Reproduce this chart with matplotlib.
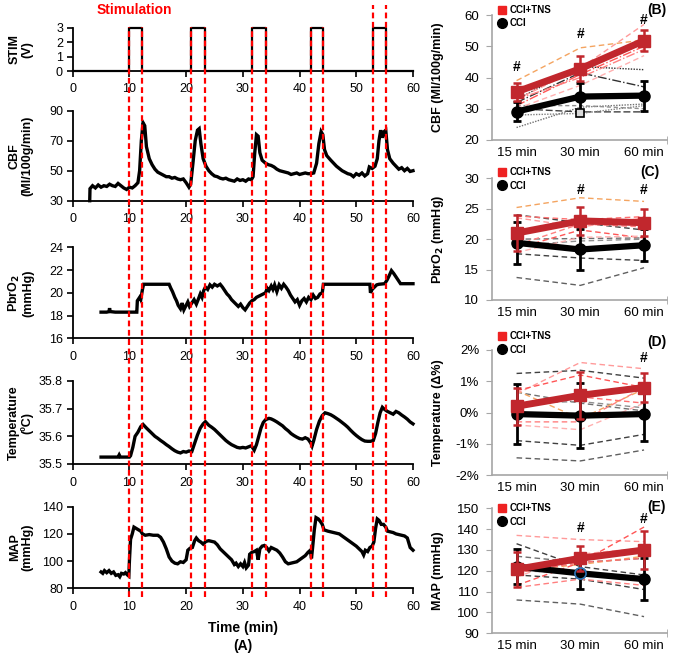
import numpy as np
import matplotlib.pyplot as plt
from matplotlib.lines import Line2D

plt.rcParams['font.family'] = ['Liberation Sans', 'DejaVu Sans']

# ---------------- panel A: raw traces (time in min, value) ----------------
stim_on = [10.0, 20.9, 31.7, 42.0, 52.9]
stim_off = [12.3, 23.3, 34.1, 44.1, 55.2]

cbf_trace = [
    (3.0, 30), (3.05, 38), (3.5, 40), (4.0, 38.5), (4.5, 40.5), (5.0, 39), (5.5, 40), (6.0, 39.5),
    (6.5, 41), (7.0, 40), (7.5, 39.5), (8.0, 41.5), (8.5, 40), (9.0, 38.5), (9.5, 37.5), (10.0, 39),
    (10.5, 38.5), (11.0, 40), (11.5, 42), (11.8, 50), (12.1, 70), (12.4, 82), (12.7, 80), (13.0, 66),
    (13.5, 58), (14.0, 54), (14.5, 51), (15.0, 49), (15.5, 48), (16.0, 47), (16.5, 46), (17.0, 46),
    (17.5, 45), (18.0, 45.5), (18.5, 44.5), (19.0, 44), (19.5, 44.5), (20.0, 42), (20.5, 39), (20.8, 41),
    (21.2, 55), (21.6, 70), (22.0, 77), (22.3, 78), (22.6, 68), (23.0, 58), (23.5, 53), (24.0, 50),
    (24.5, 48), (25.0, 46.5), (25.5, 46), (26.0, 45), (26.5, 44.5), (27.0, 45), (27.5, 44), (28.0, 43.5),
    (28.5, 43), (29.0, 44.5), (29.5, 43.5), (30.0, 44), (30.5, 43), (31.0, 44.5), (31.5, 44), (31.8, 46),
    (32.1, 62), (32.4, 74), (32.7, 73), (33.0, 62), (33.4, 57), (34.0, 55), (34.5, 54), (35.0, 53.5),
    (35.5, 52.5), (36.0, 51), (36.5, 50), (37.0, 49.5), (37.5, 49), (38.0, 48.5), (38.5, 47.5), (39.0, 48),
    (39.5, 48.5), (40.0, 47.5), (40.5, 48), (41.0, 48.5), (41.5, 48), (42.0, 48), (42.5, 48.5), (43.0, 55),
    (43.4, 68), (43.8, 76), (44.1, 74), (44.4, 64), (44.8, 60), (45.5, 57), (46.0, 55), (46.5, 53),
    (47.0, 51.5), (47.5, 50), (48.0, 49), (48.5, 48), (49.0, 47.5), (49.5, 46), (50.0, 48), (50.5, 47),
    (51.0, 48.5), (51.5, 46.5), (52.0, 48), (52.3, 52.5), (52.8, 51.5), (53.3, 53), (53.7, 58), (54.0, 70),
    (54.3, 77), (54.6, 72), (54.9, 76), (55.2, 77), (55.5, 64), (55.9, 58), (56.5, 55), (57.0, 53),
    (57.5, 51), (58.0, 52), (58.5, 50), (59.0, 51.5), (59.5, 49.5), (60.0, 50)]

pbro2_trace = [
    (5.0, 18.3), (6.0, 18.3), (6.4, 18.35), (6.5, 18.65), (6.6, 18.35), (7.5, 18.3), (9.0, 18.3),
    (10.0, 18.3), (11.0, 18.3), (11.3, 18.3), (11.4, 19.3), (11.8, 19.6), (12.0, 19.4), (12.3, 20.3),
    (12.5, 20.75), (14.0, 20.75), (16.0, 20.75), (17.0, 20.75), (17.3, 20.4), (17.6, 20.1), (18.0, 19.6),
    (18.3, 19.3), (18.6, 18.9), (19.0, 18.6), (19.3, 19.1), (19.6, 18.5), (20.0, 18.9), (20.3, 19.2),
    (20.6, 18.8), (21.0, 19.1), (21.4, 19.4), (21.8, 19.0), (22.2, 19.5), (22.5, 19.9), (22.8, 19.6),
    (23.1, 20.2), (23.4, 20.5), (23.8, 20.3), (24.2, 20.7), (24.6, 20.5), (25.0, 20.75), (25.5, 20.6),
    (26.0, 20.75), (26.4, 20.5), (26.8, 20.2), (27.2, 19.9), (27.6, 19.7), (28.0, 19.4), (28.4, 19.2),
    (28.8, 19.0), (29.2, 18.8), (29.6, 19.0), (30.0, 18.7), (30.4, 18.5), (30.8, 18.8), (31.2, 19.1),
    (31.6, 19.3), (32.0, 19.4), (32.4, 19.6), (32.8, 19.7), (33.2, 19.8), (33.6, 19.9), (34.0, 20.0),
    (34.3, 20.4), (34.6, 20.2), (35.0, 20.6), (35.3, 20.3), (35.6, 20.7), (36.0, 20.1), (36.4, 20.7),
    (36.8, 20.4), (37.2, 20.75), (37.6, 20.5), (38.0, 20.2), (38.4, 19.8), (38.8, 19.5), (39.2, 19.2),
    (39.6, 19.4), (40.0, 18.9), (40.4, 19.3), (40.8, 19.5), (41.2, 19.2), (41.6, 19.6), (42.0, 19.4),
    (42.4, 19.8), (42.8, 19.5), (43.2, 19.6), (43.6, 19.9), (44.0, 20.0), (44.2, 20.75), (46.0, 20.75),
    (48.0, 20.75), (50.0, 20.75), (52.0, 20.75), (52.4, 20.75), (52.5, 20.0), (52.8, 20.3), (53.2, 20.5),
    (53.6, 20.7), (54.0, 20.75), (55.0, 20.8), (55.4, 21.1), (55.8, 21.5), (56.2, 21.95), (56.6, 21.7),
    (57.0, 21.4), (57.4, 21.1), (57.8, 20.8), (58.5, 20.8), (59.0, 20.8), (60.0, 20.8)]

temp_trace = [
    (5.0, 35.525), (8.0, 35.525), (8.2, 35.533), (8.4, 35.525), (10.0, 35.525), (10.2, 35.53),
    (10.6, 35.56), (11.0, 35.6), (11.5, 35.615), (12.0, 35.635), (12.4, 35.643), (13.0, 35.63),
    (13.5, 35.62), (14.0, 35.61), (14.5, 35.6), (15.0, 35.593), (15.5, 35.585), (16.0, 35.578),
    (16.5, 35.57), (17.0, 35.563), (17.5, 35.555), (18.0, 35.548), (18.5, 35.543), (19.0, 35.54),
    (19.5, 35.545), (20.0, 35.543), (20.5, 35.547), (21.0, 35.545), (21.5, 35.575), (22.0, 35.605),
    (22.5, 35.63), (23.0, 35.645), (23.4, 35.653), (24.0, 35.64), (24.5, 35.633), (25.0, 35.625),
    (25.5, 35.615), (26.0, 35.605), (26.5, 35.595), (27.0, 35.585), (27.5, 35.577), (28.0, 35.57),
    (28.5, 35.565), (29.0, 35.56), (29.5, 35.558), (30.0, 35.56), (30.5, 35.558), (31.0, 35.562),
    (31.5, 35.566), (32.0, 35.55), (32.4, 35.57), (32.8, 35.6), (33.2, 35.63), (33.6, 35.65),
    (34.0, 35.66), (34.6, 35.665), (35.0, 35.663), (35.5, 35.658), (36.0, 35.652), (36.5, 35.645),
    (37.0, 35.638), (37.5, 35.628), (38.0, 35.62), (38.5, 35.61), (39.0, 35.603), (39.5, 35.597),
    (40.0, 35.592), (40.5, 35.59), (41.0, 35.595), (41.5, 35.59), (42.0, 35.575), (42.2, 35.565),
    (42.5, 35.585), (43.0, 35.625), (43.5, 35.655), (44.0, 35.675), (44.5, 35.685), (45.0, 35.682),
    (45.5, 35.678), (46.0, 35.672), (46.5, 35.665), (47.0, 35.658), (47.5, 35.65), (48.0, 35.642),
    (48.5, 35.633), (49.0, 35.622), (49.5, 35.612), (50.0, 35.603), (50.5, 35.595), (51.0, 35.588),
    (51.5, 35.583), (52.0, 35.582), (52.5, 35.582), (53.0, 35.585), (53.4, 35.61), (53.8, 35.65),
    (54.2, 35.685), (54.6, 35.705), (55.0, 35.697), (55.5, 35.69), (56.0, 35.685), (56.5, 35.68),
    (57.0, 35.69), (57.5, 35.685), (58.0, 35.677), (58.5, 35.67), (59.0, 35.662), (59.5, 35.652),
    (60.0, 35.645)]

map_trace = [
    (5.0, 92), (5.3, 91), (5.6, 93), (6.0, 91.5), (6.4, 93), (6.8, 91), (7.2, 92), (7.6, 89.5),
    (8.0, 90), (8.3, 88.5), (8.6, 91), (9.0, 90.5), (9.3, 91.5), (9.6, 90), (9.9, 89), (10.0, 100),
    (10.2, 116), (10.5, 120), (10.8, 125), (11.2, 124), (11.6, 123), (12.0, 122), (12.3, 120),
    (12.8, 119), (13.5, 119.5), (14.2, 119), (15.0, 119), (15.5, 117.5), (16.0, 114), (16.5, 109),
    (17.0, 103), (17.5, 100), (18.0, 98.5), (18.5, 98), (19.0, 99.5), (19.5, 99), (20.0, 101),
    (20.3, 108), (20.7, 109.5), (21.1, 110), (21.5, 115), (21.8, 117), (22.2, 115), (22.6, 114),
    (23.0, 112.5), (23.5, 114.5), (24.0, 115), (24.5, 114.5), (25.0, 114), (25.5, 112), (26.0, 109),
    (26.5, 107), (27.0, 105), (27.5, 103), (28.0, 101), (28.5, 97.5), (28.8, 98.5), (29.2, 96),
    (29.6, 98), (30.0, 96), (30.3, 99), (30.6, 95), (31.0, 97), (31.2, 105), (31.6, 106.5),
    (32.0, 107), (32.4, 108), (32.7, 101), (33.0, 109), (33.4, 111), (33.8, 111.5), (34.2, 110),
    (34.6, 107.5), (35.0, 110), (35.5, 109), (36.0, 108), (36.5, 106), (37.0, 103), (37.5, 99.5),
    (38.0, 98), (38.5, 98.5), (39.0, 99), (39.5, 99.5), (40.0, 101), (40.5, 102.5), (41.0, 104),
    (41.5, 106.5), (41.9, 108), (42.1, 102), (42.3, 110), (42.6, 123), (42.9, 132), (43.3, 131),
    (43.7, 129), (44.0, 127), (44.3, 123), (45.0, 122), (45.5, 121.5), (46.0, 121), (46.5, 120.5),
    (47.0, 120), (47.5, 118.5), (48.0, 117), (48.5, 115.5), (49.0, 114), (49.5, 112.5), (50.0, 111),
    (50.5, 109), (51.0, 107), (51.3, 104.5), (51.6, 108), (52.0, 107), (52.4, 110), (52.8, 111),
    (53.1, 114), (53.4, 124), (53.7, 131), (54.0, 130), (54.4, 127), (54.8, 127), (55.2, 125),
    (55.5, 122), (56.0, 121.5), (56.5, 121), (57.0, 120), (57.5, 119.5), (58.0, 119), (58.5, 118.5),
    (59.0, 117), (59.5, 110), (60.0, 108)]

# ---------------- panels B-E: group means, SD, individual animals ----------------
time_labels = ['15 min', '30 min', '60 min']

cbf_tns, cbf_tns_err = [35.4, 42.8, 51.8], [3.0, 4.0, 3.4]
cbf_cci, cbf_cci_err = [29.1, 33.9, 34.2], [3.0, 4.5, 4.8]
cbf_tns_ind = [[39.0, 49.5, 52.0], [33.0, 43.0, 57.0], [31.0, 41.0, 50.0], [30.0, 37.5, 47.0], [33.0, 40.0, 49.0]]
cbf_cci_ind = [[32.0, 41.5, 37.0], [33.0, 43.5, 42.5], [24.0, 30.5, 31.5], [30.0, 29.0, 29.0], [28.0, 28.5, 31.0], [31.0, 31.0, 30.0]]
cbf_hash = [(0, 43.5), (1, 54.0), (2, 58.5)]

pbro2_tns, pbro2_tns_err = [21.0, 23.0, 22.7], [3.0, 2.3, 2.2]
pbro2_cci, pbro2_cci_err = [19.4, 18.3, 19.0], [3.5, 3.4, 2.6]
pbro2_tns_ind = [[25.2, 26.8, 26.2], [23.5, 22.0, 23.5], [18.5, 21.5, 20.2], [17.8, 20.3, 20.5], [19.0, 22.5, 22.0], [23.8, 23.2, 23.7]]
pbro2_cci_ind = [[24.0, 22.7, 21.5], [20.0, 20.1, 20.2], [17.6, 16.9, 16.5], [13.7, 12.4, 15.3], [19.0, 19.7, 20.0]]
pbro2_hash = [(1, 28.1), (2, 28.0)]

temp_tns, temp_tns_err = [0.2, 0.55, 0.8], [0.6, 0.75, 0.45]
temp_cci, temp_cci_err = [-0.05, -0.1, -0.05], [0.95, 1.05, 0.85]
temp_tns_ind = [[0.7, -0.2, 0.75], [0.6, 1.6, 1.4], [0.7, 1.2, 0.8], [-0.4, -0.55, 0.3], [-0.3, -0.3, 0.8], [0.2, 0.5, 0.3]]
temp_cci_ind = [[1.25, 1.35, 1.1], [0.65, 0.3, 0.05], [-0.9, -1.05, -0.7], [-1.45, -1.55, -1.2], [0.3, 0.35, 0.15]]
temp_hash = [(2, 1.75)]

map_tns, map_tns_err = [120.7, 126.0, 130.0], [8.5, 6.0, 9.0]
map_cci, map_cci_err = [122.0, 118.8, 116.0], [8.5, 7.5, 10.0]
map_tns_ind = [[120.0, 123.0, 127.0], [137.0, 135.0, 134.0], [113.0, 124.0, 141.0], [117.0, 128.0, 131.0], [112.0, 116.0, 113.0], [119.0, 124.0, 126.0]]
map_cci_ind = [[133.0, 122.0, 118.0], [127.0, 124.0, 126.0], [118.0, 116.0, 111.0], [106.0, 104.0, 98.0], [120.0, 119.0, 117.0]]
map_hash = [(1, 140.5), (2, 145.0)]

RED = '#c1272d'

fig = plt.figure(figsize=(6.75, 6.55), dpi=100)
W, H = 675.0, 655.0


def px_axes(x0, x1, ytop, ybot):
    return fig.add_axes([x0 / W, 1 - ybot / H, (x1 - x0) / W, (ybot - ytop) / H])


# ---- left column ----
left_specs = [
    ('STIM\n(V)', (28, 71), (0, 3), [0, 1, 2, 3], None),
    ('CBF\n(Ml/100g/min)', (110.7, 200.7), (30, 90), [30, 50, 70, 90], cbf_trace),
    ('PbrO$_\\mathbf{2}$\n(mmHg)', (247.3, 338.3), (16, 24), [16, 18, 20, 22, 24], pbro2_trace),
    ('Temperature\n(\u00baC)', (381, 464), (35.5, 35.8), [35.5, 35.6, 35.7, 35.8], temp_trace),
    ('MAP\n(mmHg)', (506.7, 588.3), (80, 140), [80, 100, 120, 140], map_trace),
]

for label, (yt, yb), ylim, yticks, trace in left_specs:
    ax = px_axes(72.7, 413, yt, yb)
    if trace is None:
        st, sv = [0], [0]
        for a, b in zip(stim_on, stim_off):
            st += [a, a, b, b]
            sv += [0, 3, 3, 0]
        st.append(60)
        sv.append(0)
        ax.plot(st, sv, color='black', lw=1.6, clip_on=False)
    else:
        tr = np.array(trace)
        ax.plot(tr[:, 0], tr[:, 1], color='black', lw=2.4, solid_joinstyle='miter', clip_on=False)
    ax.set_xlim(0, 60)
    ax.set_ylim(*ylim)
    ax.set_xticks(range(0, 61, 10))
    ax.set_yticks(yticks)
    if ylim[0] == 35.5:
        ax.set_yticklabels(['%.1f' % v for v in yticks])
    for s in ['top', 'right']:
        ax.spines[s].set_visible(False)
    for s in ['left', 'bottom']:
        ax.spines[s].set_linewidth(1.3)
    ax.tick_params(axis='both', labelsize=9, width=1.2, length=4, pad=3)
    ax.tick_params(axis='x', pad=5)
    ax.set_ylabel(label, fontsize=9, fontweight='bold', linespacing=1.05, va='center')
    ax.yaxis.set_label_coords(-0.152, 0.5)
    ax.patch.set_alpha(0)

# red dashed stimulation markers across the whole left column
ov = fig.add_axes([72.7 / W, 1 - 597 / H, (413 - 72.7) / W, 592 / H])
ov.set_xlim(0, 60)
ov.set_ylim(0, 1)
ov.axis('off')
for i, (a, b) in enumerate(zip(stim_on, stim_off)):
    top = 1.0 if i == len(stim_on) - 1 else 0.962
    for x in (a, b):
        ov.axvline(x, 0, top, color='#ff0000', lw=1.6, dashes=(2.6, 1.6))

fig.text(134 / W, 1 - 10 / H, 'Stimulation', color='#ff0000', fontsize=10, fontweight='bold',
         ha='center', va='center')
fig.text(243 / W, 1 - 628 / H, 'Time (min)', fontsize=10, fontweight='bold', ha='center', va='center')
fig.text(243 / W, 1 - 646 / H, '(A)', fontsize=10, fontweight='bold', ha='center', va='center')

# ---- right column ----
right_specs = [
    ('CBF (Ml/100g/min)', (15, 140), (20, 60), range(20, 61, 10), '(B)', (0.94, 1.04), 1.08,
     cbf_tns, cbf_tns_err, cbf_cci, cbf_cci_err, cbf_tns_ind, cbf_cci_ind, cbf_hash),
    ('PbrO$_\\mathbf{2}$ (mmHg)', (178.3, 300), (10, 30), range(10, 31, 5), '(C)', (0.90, 1.055), 1.09,
     pbro2_tns, pbro2_tns_err, pbro2_cci, pbro2_cci_err, pbro2_tns_ind, pbro2_cci_ind, pbro2_hash),
    ('Temperature (\u0394%)', (350, 475), (-2, 2), range(-2, 3), '(D)', (0.94, 1.066), 1.15,
     temp_tns, temp_tns_err, temp_cci, temp_cci_err, temp_tns_ind, temp_cci_ind, temp_hash),
    ('MAP (mmHg)', (508.3, 633.3), (90, 150), range(90, 151, 10), '(E)', (0.94, 1.013), 1.04,
     map_tns, map_tns_err, map_cci, map_cci_err, map_tns_ind, map_cci_ind, map_hash),
]

x = np.arange(3)
for k, (label, (yt, yb), ylim, yticks, tag, tagpos, legy, tns, tns_e, cci, cci_e, tns_ind, cci_ind, hashes) in enumerate(right_specs):
    ax = px_axes(491.7, 667, yt, yb)
    # individual animals
    for j, row in enumerate(cci_ind):
        if k == 0:
            ls = ['-.', (0, (1, 1)), (0, (1, 1)), (0, (5, 2)), (0, (1, 1)), (0, (3, 2))][j]
            col = ['#303030', '#303030', '#707070', '#404040', '#808080', '#909090'][j]
        else:
            ls, col = (0, (4, 2.5)), ['#404040', '#707070', '#404040', '#606060', '#909090'][j]
        ax.plot(x, row, color=col, lw=1.0, ls=ls, zorder=1)
    for j, row in enumerate(tns_ind):
        col = '#f4a460' if j == 0 else ['#ff6f6f', '#ff9a9a', '#ff5555', '#ffb0b0', '#ff8080'][j % 5]
        ls = (0, (4, 2.5)) if k > 0 else ((0, (4, 2.5)) if j == 0 else ['-.', (0, (4, 2.5))][j % 2])
        ax.plot(x, row, color=col, lw=1.0, ls=ls, zorder=1)
    # group means
    ax.errorbar(x, cci, yerr=cci_e, color='black', lw=4.5, marker='o', ms=8, capsize=3,
                elinewidth=2.0, capthick=2.0, zorder=3)
    ax.errorbar(x, tns, yerr=tns_e, color=RED, lw=5, marker='s', ms=8, capsize=3,
                elinewidth=1.8, capthick=1.8, zorder=4)
    if k == 0:
        ax.plot([1], [28.8], marker='s', ms=6, mfc='#d9d9d9', mec='black', mew=1.2, zorder=5)
    if k == 3:
        ax.plot([1], [map_cci[1]], marker='o', ms=8, mfc='none', mec='#2e75b6', mew=1.2, zorder=5)
    for hx, hy in hashes:
        ax.text(hx, hy, '#', fontsize=10, fontweight='bold', ha='center', va='center')
    ax.set_xlim(-0.39, 2.36)
    ax.set_ylim(*ylim)
    ax.set_yticks(list(yticks))
    if k == 2:
        ax.set_yticklabels(['%d%%' % v for v in yticks])
    ax.set_xticks(x)
    ax.set_xticklabels(time_labels)
    ax.set_xticks([1, 2.36], minor=True)
    ax.tick_params(axis='x', which='major', length=0, labelsize=9.5, pad=5)
    ax.tick_params(axis='x', which='minor', length=6, direction='inout', color='#a6a6a6')
    ax.tick_params(axis='y', labelsize=9.5, length=4, color='#a6a6a6', pad=5)
    for s in ['top', 'right']:
        ax.spines[s].set_visible(False)
    for s in ['left', 'bottom']:
        ax.spines[s].set_color('#a6a6a6')
        ax.spines[s].set_linewidth(1.2)
    ax.set_ylabel(label, fontsize=9, fontweight='bold', va='center')
    ax.yaxis.set_label_coords(-0.306, 0.5)
    ax.text(tagpos[0], tagpos[1], tag, transform=ax.transAxes, fontsize=10, fontweight='bold',
            ha='center', va='center')
    handles = [Line2D([], [], marker='s', color='#ee2222', ls='none', ms=6),
               Line2D([], [], marker='o', color='black', ls='none', ms=7)]
    ax.legend(handles, ['CCI+TNS', 'CCI'], loc='upper left', bbox_to_anchor=(0.03, legy),
              frameon=False, prop={'weight': 'bold', 'size': 7}, handlelength=1.0,
              handletextpad=0.3, labelspacing=0.35, borderaxespad=0, borderpad=0)
    ax.patch.set_alpha(0)

fig.savefig('out.png', dpi=100)
